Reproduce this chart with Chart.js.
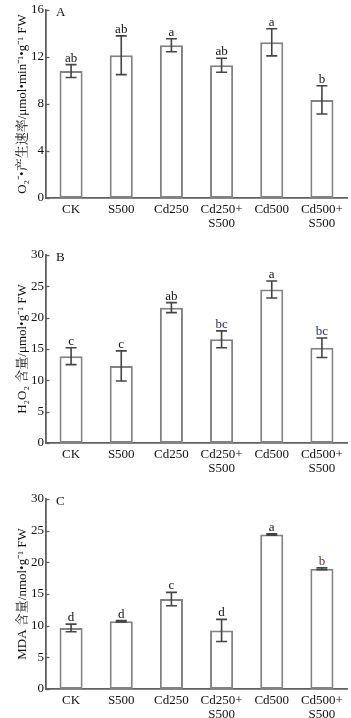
<!DOCTYPE html>
<html>
<head>
<meta charset="utf-8">
<script src="https://cdn.jsdelivr.net/npm/chart.js@4/dist/chart.umd.min.js"></script>
<style>
html,body{margin:0;padding:0;background:#fff;}
#wrap{position:relative;width:351px;height:718px;}
canvas{position:absolute;left:0;}
</style>
</head>
<body>
<div id="wrap">
<canvas id="cA" width="351" height="235" style="top:0px"></canvas>
<canvas id="cB" width="351" height="245" style="top:235px"></canvas>
<canvas id="cC" width="351" height="238" style="top:480px"></canvas>
</div>
<script>
// ---- data ----
const categories = ['CK', 'S500', 'Cd250', ['Cd250+', 'S500'], 'Cd500', ['Cd500+', 'S500']];

const o2Rate = [10.8, 12.15, 13.0, 11.3, 13.25, 8.35];
const o2Err  = [0.55, 1.65, 0.55, 0.6, 1.15, 1.2];
const o2Sig  = ['ab', 'ab', 'a', 'ab', 'a', 'b'];
const o2Ticks = [0, 4, 8, 12, 16];

const h2o2     = [13.85, 12.3, 21.6, 16.55, 24.5, 15.2];
const h2o2Err  = [1.35, 2.4, 0.8, 1.35, 1.35, 1.55];
const h2o2Sig  = ['c', 'c', 'ab', 'bc', 'a', 'bc'];
const h2o2Ticks = [0, 5, 10, 15, 20, 25, 30];

const mda     = [9.65, 10.7, 14.2, 9.25, 24.4, 19.0];
const mdaErr  = [0.6, 0.1, 1.05, 1.75, 0.12, 0.15];
const mdaSig  = ['d', 'd', 'c', 'd', 'a', 'b'];
const mdaTicks = [0, 5, 10, 15, 20, 25, 30];

// ---- styles ----
const SERIF = "'Liberation Serif', 'Times New Roman', 'Noto Serif CJK SC', 'Noto Sans CJK SC', serif";
const AXIS = '#606060';
const BAR_BORDER = '#828282';
const TEXT = '#111111';

const overlay = {
  id: 'overlay',
  afterDatasetsDraw(chart, args, opts) {
    const ctx = chart.ctx, y = chart.scales.y, x = chart.scales.x;
    const meta = chart.getDatasetMeta(0);
    const vals = chart.data.datasets[0].data;
    ctx.save();
    // inward ticks
    ctx.strokeStyle = AXIS; ctx.lineWidth = 1.3;
    y.ticks.forEach(t => {
      const py = Math.round(y.getPixelForValue(t.value)) + 0.5;
      ctx.beginPath(); ctx.moveTo(x.left, py); ctx.lineTo(x.left + 3.5, py); ctx.stroke();
    });
    // error bars + significance letters
    ctx.font = '13px ' + SERIF;
    ctx.textAlign = 'center';
    ctx.textBaseline = 'alphabetic';
    meta.data.forEach((bar, i) => {
      const cx = bar.x;
      const top = y.getPixelForValue(vals[i] + opts.err[i]);
      const bot = y.getPixelForValue(vals[i] - opts.err[i]);
      ctx.strokeStyle = '#444444'; ctx.lineWidth = 1.6;
      ctx.beginPath();
      ctx.moveTo(cx, top); ctx.lineTo(cx, bot);
      ctx.moveTo(cx - 5.5, top); ctx.lineTo(cx + 5.5, top);
      ctx.moveTo(cx - 5.5, bot); ctx.lineTo(cx + 5.5, bot);
      ctx.stroke();
      ctx.fillStyle = (opts.sigColors && opts.sigColors[i]) || TEXT;
      ctx.fillText(opts.sig[i], cx, top - 3);
    });
    // panel letter
    ctx.fillStyle = TEXT;
    ctx.textAlign = 'left'; ctx.textBaseline = 'middle';
    ctx.fillText(opts.panel, x.left + 10, y.top + 3);
    ctx.restore();
  }
};

function makeChart(id, values, err, sig, sigColors, ticks, title, panel, padTop, xHeight) {
  const tmax = ticks[ticks.length - 1];
  return new Chart(document.getElementById(id), {
    type: 'bar',
    data: {
      labels: categories,
      datasets: [{
        data: values,
        backgroundColor: '#ffffff',
        borderColor: BAR_BORDER,
        borderWidth: 2,
        borderSkipped: false,
        barPercentage: 0.46,
        categoryPercentage: 1.0
      }]
    },
    options: {
      responsive: false,
      animation: false,
      layout: { padding: { top: padTop, right: 4, left: 0, bottom: 0 } },
      plugins: {
        legend: { display: false },
        tooltip: { enabled: false },
        overlay: { err: err, sig: sig, sigColors: sigColors, panel: panel }
      },
      scales: {
        x: {
          grid: { display: false, drawTicks: false },
          border: { display: true, color: AXIS, width: 1.8 },
          ticks: { color: TEXT, font: { family: SERIF, size: 13, lineHeight: 1.05 }, padding: 5, maxRotation: 0, autoSkip: false },
          afterFit: s => { s.height = xHeight; }
        },
        y: {
          min: 0, max: tmax,
          afterBuildTicks: s => { s.ticks = ticks.map(v => ({ value: v })); },
          grid: { display: false, drawTicks: false },
          border: { display: true, color: AXIS, width: 1.8 },
          ticks: { color: TEXT, font: { family: SERIF, size: 13 }, padding: 2 },
          title: { display: true, text: title, color: TEXT, font: { family: SERIF, size: 13 }, padding: { top: 15, bottom: 0 } },
          afterFit: s => { s.width = 46; }
        }
      }
    },
    plugins: [overlay]
  });
}

makeChart('cA', o2Rate, o2Err, o2Sig, null, o2Ticks,
  'O₂⁻•产生速率/μmol•min⁻¹•g⁻¹ FW', 'A', 10, 37);
makeChart('cB', h2o2, h2o2Err, h2o2Sig, [null, null, null, '#22306a', null, '#22306a'], h2o2Ticks,
  'H₂O₂ 含量/μmol•g⁻¹ FW', 'B', 20, 37);
makeChart('cC', mda, mdaErr, mdaSig, [null, null, null, null, null, '#6a3010'], mdaTicks,
  'MDA 含量/nmol•g⁻¹ FW', 'C', 19, 29);
</script>
</body>
</html>
